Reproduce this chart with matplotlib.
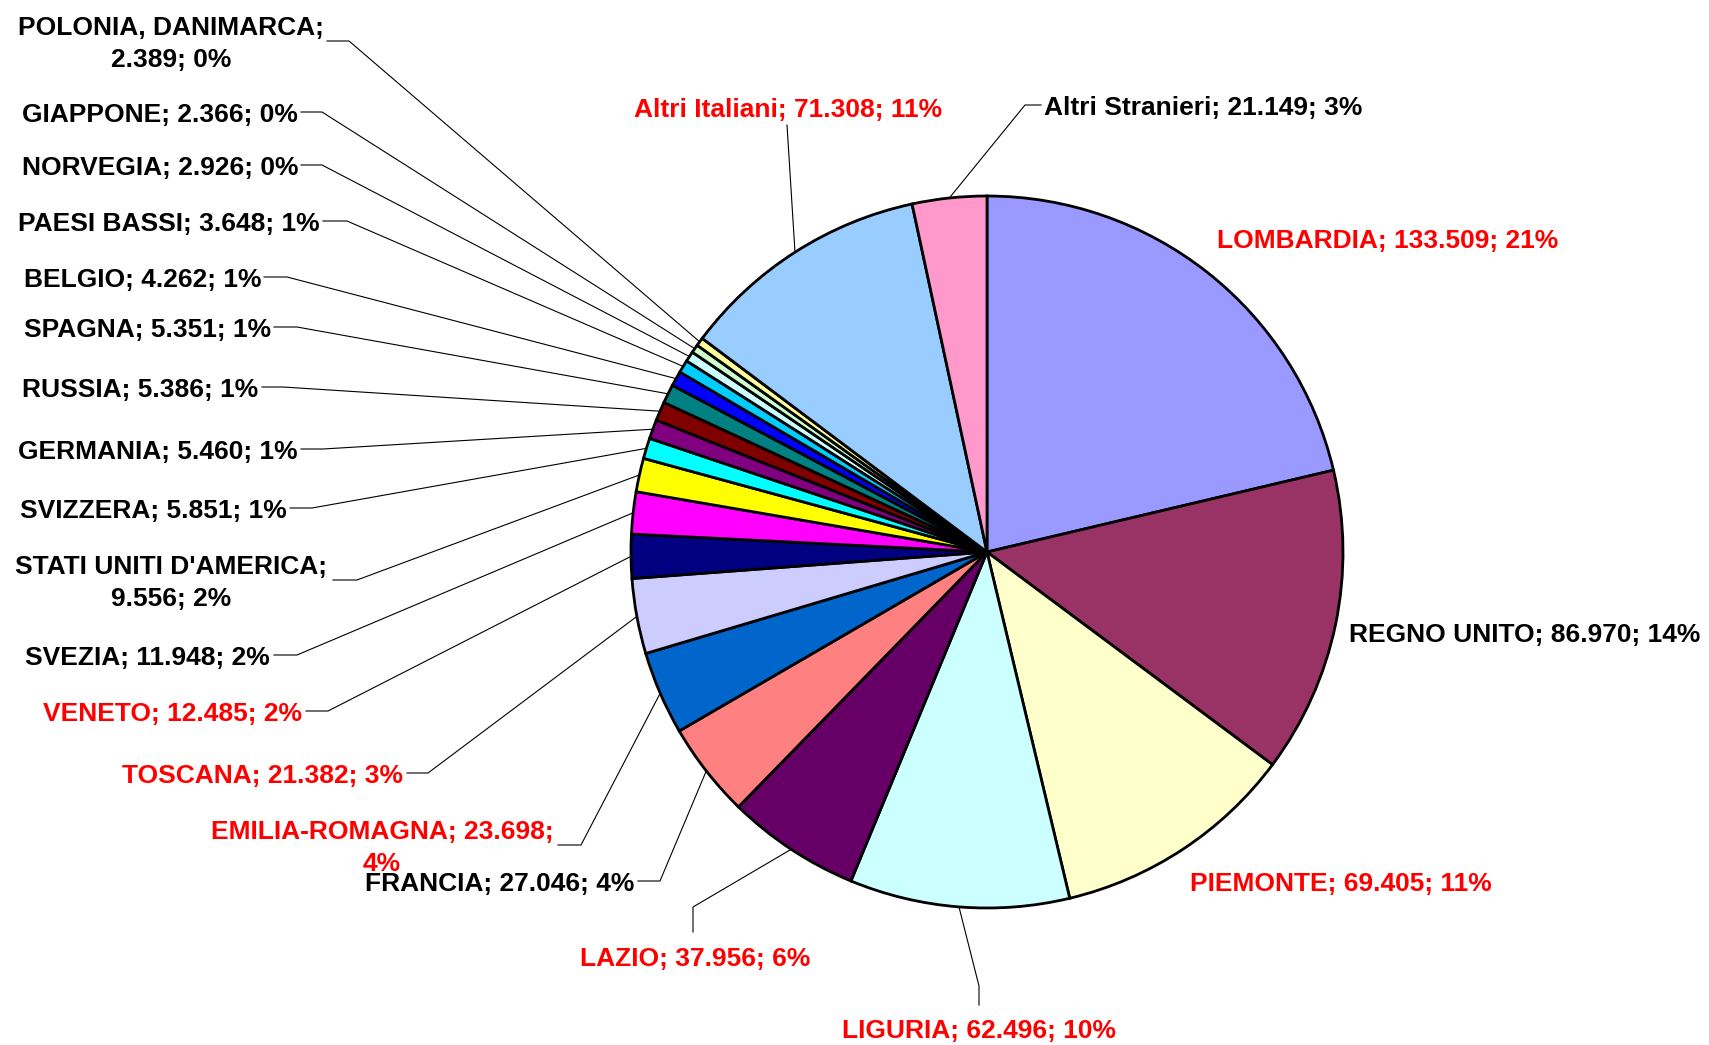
import matplotlib
matplotlib.use('Agg')
import matplotlib.pyplot as plt
import numpy as np

# Dati (ordine orario a partire dalle ore 12)
nomi = ['LOMBARDIA', 'REGNO UNITO', 'PIEMONTE', 'LIGURIA', 'LAZIO', 'FRANCIA',
        'EMILIA-ROMAGNA', 'TOSCANA', 'VENETO', 'SVEZIA', "STATI UNITI D'AMERICA",
        'SVIZZERA', 'GERMANIA', 'RUSSIA', 'SPAGNA', 'BELGIO', 'PAESI BASSI',
        'NORVEGIA', 'GIAPPONE', 'POLONIA, DANIMARCA', 'Altri Italiani', 'Altri Stranieri']
valori = [133509, 86970, 69405, 62496, 37956, 27046,
          23698, 21382, 12485, 11948, 9556,
          5851, 5460, 5386, 5351, 4262, 3648,
          2926, 2366, 2389, 71308, 21149]
italiani = [True, False, True, True, True, False,
            True, True, True, False, False,
            False, False, False, False, False, False,
            False, False, False, True, False]
colori = ['#9999FF', '#993366', '#FFFFCC', '#CCFFFF', '#660066', '#FF8080',
          '#0066CC', '#CCCCFF', '#000080', '#FF00FF', '#FFFF00',
          '#00FFFF', '#800080', '#800000', '#008080', '#0000FF', '#00CCFF',
          '#CCFFFF', '#CCFFCC', '#FFFF99', '#99CCFF', '#FF99CC']

# Posizione etichette: (x, y, allineamento, punti della linea guida)
pos_etichette = [
    (1217, 238, 'left', []),
    (1349, 632, 'left', []),
    (1190, 881, 'left', []),
    (979, 1028, 'center', [(979, 1005), (979, 986)]),
    (695, 956, 'center', [(693, 932), (693, 907)]),
    (634, 881, 'right', [(638, 881), (660, 881)]),
    (382, 845, 'center', [(558, 845), (581, 845)]),
    (403, 773, 'right', [(407, 773), (428, 773)]),
    (302, 711, 'right', [(306, 711), (328, 711)]),
    (270, 655, 'right', [(274, 655), (297, 655)]),
    (171, 580, 'center', [(333, 580), (357, 580)]),
    (287, 508, 'right', [(290, 508), (312, 508)]),
    (298, 449, 'right', [(301, 449), (323, 449)]),
    (258, 387, 'right', [(262, 387), (283, 387)]),
    (271, 327, 'right', [(274, 327), (297, 327)]),
    (261, 277, 'right', [(264, 277), (287, 277)]),
    (320, 221, 'right', [(323, 221), (347, 221)]),
    (298, 165, 'right', [(301, 165), (322, 165)]),
    (298, 112, 'right', [(301, 112), (322, 112)]),
    (171, 41, 'center', [(327, 41), (349, 41)]),
    (788, 107, 'center', [(787, 125)]),
    (1044, 105, 'left', [(1041, 105), (1025, 105)]),
]

totale = sum(valori)


def fmt(v):
    return f'{v:,}'.replace(',', '.')


etichette = []
for nome, v in zip(nomi, valori):
    pct = round(v / totale * 100)
    if nome in ('POLONIA, DANIMARCA', "STATI UNITI D'AMERICA"):
        etichette.append(f'{nome};\n{fmt(v)}; {pct}%')
    elif nome == 'EMILIA-ROMAGNA':
        etichette.append(f'{nome}; {fmt(v)};\n{pct}%')
    else:
        etichette.append(f'{nome}; {fmt(v)}; {pct}%')

plt.rcParams['font.family'] = ['Liberation Sans', 'DejaVu Sans']

fig = plt.figure(figsize=(17.09, 10.45), dpi=100)
ax = fig.add_axes([0, 0, 1, 1])

cx, cy, r = 987, 552, 356
ax.pie(valori, colors=colori, startangle=-90, counterclock=True,
       center=(cx, cy), radius=r,
       wedgeprops=dict(edgecolor='black', linewidth=2))

ax.set_xlim(0, 1709)
ax.set_ylim(1045, 0)
ax.set_aspect('equal')
ax.axis('off')

cum = np.cumsum([0] + valori[:-1])
for i, testo in enumerate(etichette):
    x, y, ha, guida = pos_etichette[i]
    ax.text(x, y + 3, testo, ha=ha, va='center', multialignment='center',
            fontsize=19, fontweight='bold',
            color='#FF0000' if italiani[i] else 'black', linespacing=1.45)
    if guida:
        theta = np.deg2rad(-90 + 360 * (cum[i] + valori[i] / 2) / totale)
        ex = cx + r * np.cos(theta)
        ey = cy + r * np.sin(theta)
        xs = [p[0] for p in guida] + [ex]
        ys = [p[1] for p in guida] + [ey]
        ax.plot(xs, ys, color='black', linewidth=0.8, zorder=0.5)

fig.savefig('out.png', dpi=100)
